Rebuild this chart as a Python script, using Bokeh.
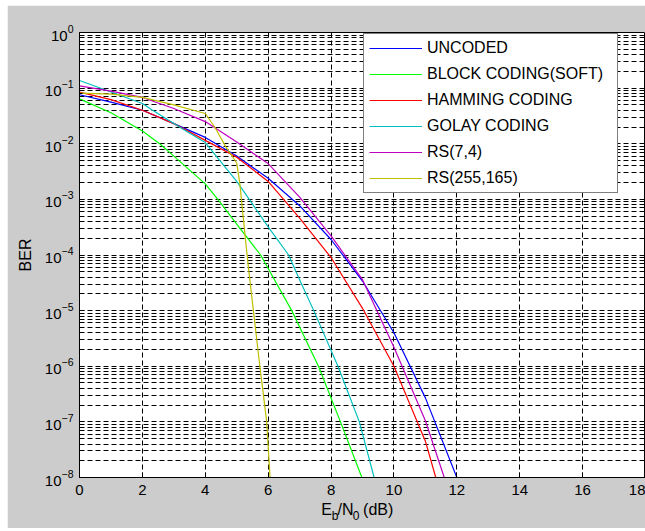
from bokeh.plotting import figure
from bokeh.models import (Range1d, FixedTicker, LogTickFormatter, Legend, LegendItem,
                          LinearAxis, CustomJSTickFormatter)
from bokeh.embed import file_html
from bokeh.resources import INLINE

# ---------------- data ----------------
uncoded_x = [0, 1, 2, 3, 4, 5, 6, 7, 8, 9, 10, 11, 12]
uncoded_ber = [0.076, 0.056, 0.040, 0.023, 0.013, 6.0e-3, 2.4e-3, 7.7e-4,
               1.9e-4, 3.4e-5, 4.0e-6, 2.7e-7, 1.0e-8]

block_x = [0, 1, 2, 2.55, 3, 4, 4.4, 5, 5.76, 6.75, 7.6, 8.3, 8.98]
block_ber = [0.064, 0.036, 0.017, 1.0e-2, 6.0e-3, 1.9e-3, 1.0e-3, 3.6e-4,
             1.0e-4, 1.0e-5, 1.0e-6, 1.0e-7, 1.0e-8]

hamming_x = [0, 1, 2, 3, 4, 5, 6, 7, 8, 9, 10, 11, 11.33]
hamming_ber = [0.085, 0.062, 0.040, 0.023, 0.0115, 5.7e-3, 2.1e-3, 4.6e-4,
               9.0e-5, 1.1e-5, 1.0e-6, 4.5e-8, 1.0e-8]

golay_x = [0, 1, 2, 2.3, 3.27, 4, 5, 5.4, 6, 6.65, 7.0, 7.45, 8.22, 8.9, 9.37]
golay_ber = [0.137, 0.085, 0.053, 0.041, 0.0186, 0.0105, 2.1e-3, 1.0e-3,
             3.2e-4, 1.0e-4, 3.6e-5, 1.0e-5, 1.0e-6, 1.0e-7, 1.0e-8]

rs74_x = [0, 1, 2, 3, 4, 5, 6, 7, 8, 9, 10, 11, 11.6]
rs74_ber = [0.11, 0.088, 0.068, 0.043, 0.025, 0.0107, 4.4e-3, 1.1e-3,
            2.2e-4, 3.6e-5, 2.2e-6, 1.05e-7, 1.0e-8]

rs255_x = [0, 1, 2, 3, 4, 4.3, 4.66, 5.0, 5.1, 5.26, 5.36, 5.53, 5.74, 5.95, 6.06]
rs255_ber = [0.081, 0.078, 0.068, 0.050, 0.035, 0.020, 8.7e-3, 4.5e-3, 1.9e-3,
             2.4e-4, 6.9e-5, 1.0e-5, 9.5e-7, 1.05e-7, 1.0e-8]

series_names = ["UNCODED", "BLOCK CODING(SOFT)", "HAMMING CODING",
                "GOLAY CODING", "RS(7,4)", "RS(255,165)"]
series_colors = ["#0000ff", "#00ff00", "#ff0000", "#00bfbf", "#bf00bf", "#bfbf00"]

x_ticks = [0, 2, 4, 6, 8, 10, 12, 14, 16, 18]
y_exponents = [-8, -7, -6, -5, -4, -3, -2, -1, 0]
y_mantissas = [2, 3, 4, 5, 6, 7, 8, 9]

# x-axis title  E_b/N_0 (dB): full-size pieces and subscript pieces
title_main_text = ["E", "/N", "(dB)"]
title_sub_text = ["b", "0"]

FONT = "Liberation Sans"
GRAY = "#cccccc"

# ---------------- figure ----------------
p = figure(width=638, height=523, x_axis_type="linear", y_axis_type="log",
           x_range=Range1d(0, 18), y_range=Range1d(1e-8, 1),
           output_backend="svg", toolbar_location=None,
           min_border_left=72, min_border_right=0, min_border_top=27,
           min_border_bottom=51)
p.margin = (5, 0, 3, 7)
p.border_fill_color = GRAY
p.background_fill_color = "white"
p.outline_line_color = "black"
p.outline_line_width = 1

major_y = [10.0 ** e for e in y_exponents]
minor_y = [m * 10.0 ** e for e in y_exponents[:-1] for m in y_mantissas]
p.yaxis.ticker = FixedTicker(ticks=major_y, minor_ticks=minor_y)
p.yaxis.formatter = LogTickFormatter()
p.xaxis.ticker = FixedTicker(ticks=x_ticks)

for ax in (p.xaxis, p.yaxis):
    ax.axis_line_color = "black"
    ax.major_tick_line_color = "black"
    ax.minor_tick_line_color = "black"
    ax.major_tick_in = 5
    ax.major_tick_out = 0
    ax.minor_tick_in = 3
    ax.minor_tick_out = 0
    ax.major_label_text_font = FONT
    ax.major_label_text_font_size = "15px"
    ax.major_label_text_color = "black"
    ax.axis_label_text_font = FONT
    ax.axis_label_text_font_size = "16px"
    ax.axis_label_text_font_style = "normal"
    ax.axis_label_text_color = "black"

p.xaxis.major_label_standoff = 7
p.yaxis.major_label_standoff = 6
p.yaxis.axis_label = "BER"
p.yaxis.axis_label_standoff = 8

for g in (p.xgrid, p.ygrid):
    g.grid_line_color = "black"
    g.grid_line_dash = "5 3"
    g.grid_line_width = 1
    g.grid_line_alpha = 1
p.ygrid.minor_grid_line_color = "black"
p.ygrid.minor_grid_line_dash = "5 3"
p.ygrid.minor_grid_line_width = 1

# ---------------- curves ----------------
xs = [uncoded_x, block_x, hamming_x, golay_x, rs74_x, rs255_x]
ys = [uncoded_ber, block_ber, hamming_ber, golay_ber, rs74_ber, rs255_ber]
items = []
for name, col, x, y in zip(series_names, series_colors, xs, ys):
    r = p.line(x, y, line_color=col, line_width=1.2)
    items.append(LegendItem(label=name, renderers=[r]))

legend = Legend(items=items, location=(284, 284), margin=0, padding=5,
                spacing=8, glyph_width=53, glyph_height=16, label_height=16,
                label_width=185, label_standoff=5, label_text_font=FONT,
                label_text_font_size="16px", label_text_color="black",
                border_line_color="black", border_line_width=1,
                background_fill_color="white", background_fill_alpha=1)
p.add_layout(legend, "center")

# ---------------- x title E_b/N_0 (dB), built from two label-only axes ----------------
def title_axis(positions, labels, size, standoff):
    ax = LinearAxis(ticker=FixedTicker(ticks=positions),
                    formatter=CustomJSTickFormatter(args=dict(labels=labels),
                                                    code="return labels[index]"))
    ax.axis_line_color = None
    ax.major_tick_line_color = None
    ax.minor_tick_line_color = None
    ax.major_tick_in = 0
    ax.major_tick_out = 0
    ax.minor_tick_in = 0
    ax.minor_tick_out = 0
    ax.major_label_standoff = standoff
    ax.major_label_text_font = FONT
    ax.major_label_text_font_size = size
    ax.major_label_text_color = "black"
    return ax

# horizontal centres of the title pieces, in E_b/N_0 units of the shared x scale
title_main_pos = [7.86, 8.46, 9.5]
title_sub_pos = [8.13, 8.80]
p.add_layout(title_axis(title_main_pos, title_main_text, "16px", 3), "below")
p.add_layout(title_axis(title_sub_pos, title_sub_text, "12px", -12), "below")

open("out.html", "w").write(file_html(p, INLINE))
